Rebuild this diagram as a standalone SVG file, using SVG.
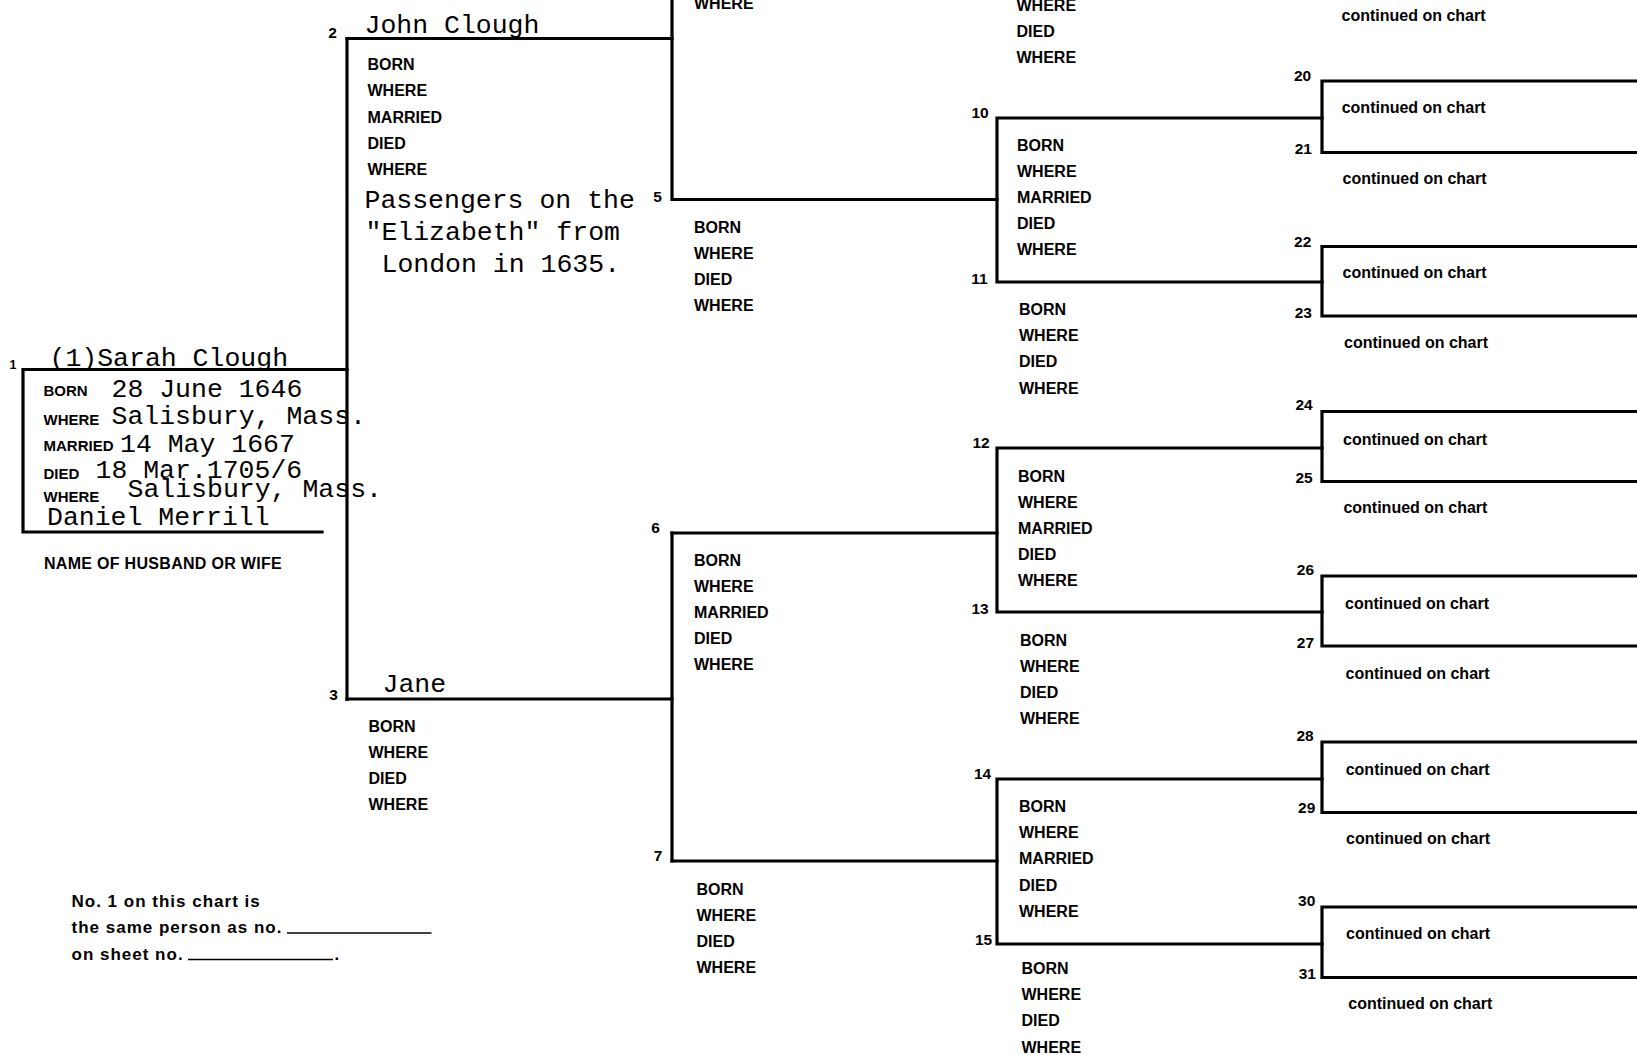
<svg xmlns="http://www.w3.org/2000/svg" width="1637" height="1055" viewBox="0 0 1637 1055">
<style>
.ln{stroke:#000;stroke-width:3.2;fill:none;stroke-linecap:square;stroke-linejoin:miter}
.lbl{font-family:"Liberation Sans",Arial,Helvetica,sans-serif;font-weight:bold;font-size:16px;fill:#000}
.num{font-family:"Liberation Sans",Arial,Helvetica,sans-serif;font-weight:bold;font-size:15.5px;fill:#000;text-anchor:middle}
.typ{font-family:"Liberation Mono","Courier New",monospace;font-size:26.5px;fill:#000}
.sm{font-family:"Liberation Sans",Arial,Helvetica,sans-serif;font-weight:bold;font-size:15px;fill:#000}
.nm{font-family:"Liberation Sans",Arial,Helvetica,sans-serif;font-weight:bold;font-size:16px;letter-spacing:0.3px;fill:#000}
.note{font-family:"Liberation Sans",Arial,Helvetica,sans-serif;font-weight:bold;font-size:17px;letter-spacing:1px;fill:#000}
.ul{stroke:#000;stroke-width:1.5;fill:none}
</style>
<rect x="0" y="0" width="1637" height="1055" fill="#fff"/>

<g id="connectors">
<path class="ln" d="M347,38.5 V699.5"/>
<path class="ln" d="M347,38.5 H672"/>
<path class="ln" d="M347,699 H672"/>
<path class="ln" d="M672,-5 V199.5 H997"/>
<path class="ln" d="M672,533 V861"/>
<path class="ln" d="M672,533 H997"/>
<path class="ln" d="M672,861 H997"/>
<path class="ln" d="M1322,118 H997 V282 H1322"/>
<path class="ln" d="M1322,448 H997 V612 H1322"/>
<path class="ln" d="M1322,779 H997 V944 H1322"/>
<path class="ln" d="M1642,81 H1322 V152.5 H1642"/>
<path class="ln" d="M1642,246.5 H1322 V316 H1642"/>
<path class="ln" d="M1642,411.5 H1322 V481.5 H1642"/>
<path class="ln" d="M1642,576 H1322 V646 H1642"/>
<path class="ln" d="M1642,742 H1322 V812.5 H1642"/>
<path class="ln" d="M1642,907 H1322 V977.5 H1642"/>
</g>

<g id="node1">
<path class="ln" d="M347,369.5 H23 V532 H322"/>
<text class="num" x="13" y="369" style="font-size:12.5px">1</text>
<text class="typ" x="49.5" y="365.5">(1)Sarah Clough</text>
<text class="sm" x="43.5" y="396">BORN</text>
<text class="typ" x="111.5" y="396.5">28 June 1646</text>
<text class="sm" x="43.5" y="424.5">WHERE</text>
<text class="typ" x="111.5" y="424">Salisbury, Mass.</text>
<text class="sm" x="43.5" y="451">MARRIED</text>
<text class="typ" x="120" y="451.5">14 May 1667</text>
<text class="sm" x="43.5" y="478.5">DIED</text>
<text class="typ" x="95.5" y="478">18 Mar.1705/6</text>
<text class="sm" x="43.5" y="502">WHERE</text>
<text class="typ" x="127.5" y="497">Salisbury, Mass.</text>
<text class="typ" x="47" y="525">Daniel Merrill</text>
<text class="nm" x="44" y="569">NAME OF HUSBAND OR WIFE</text>
</g>

<g id="node2">
<text class="num" x="332.5" y="38">2</text>
<text class="typ" x="364.5" y="32.5">John Clough</text>
<text class="lbl" x="367.5" y="70">BORN</text>
<text class="lbl" x="367.5" y="96.3">WHERE</text>
<text class="lbl" x="367.5" y="122.6">MARRIED</text>
<text class="lbl" x="367.5" y="148.9">DIED</text>
<text class="lbl" x="367.5" y="175.2">WHERE</text>
<text class="typ" x="364.5" y="208">Passengers on the</text>
<text class="typ" x="365.5" y="239.5">"Elizabeth" from</text>
<text class="typ" x="381.5" y="271.5">London in 1635.</text>
</g>

<g id="node3">
<text class="num" x="333.5" y="700">3</text>
<text class="typ" x="382.5" y="692">Jane</text>
<text class="lbl" x="368.5" y="731.6">BORN</text>
<text class="lbl" x="368.5" y="757.7">WHERE</text>
<text class="lbl" x="368.5" y="783.9">DIED</text>
<text class="lbl" x="368.5" y="810">WHERE</text>
</g>

<g id="node4">
<text class="lbl" x="694" y="8.5">WHERE</text>
</g>

<g id="node5">
<text class="num" x="657.5" y="201.5">5</text>
<text class="lbl" x="694" y="232.5">BORN</text>
<text class="lbl" x="694" y="258.6">WHERE</text>
<text class="lbl" x="694" y="284.8">DIED</text>
<text class="lbl" x="694" y="311">WHERE</text>
</g>

<g id="node6">
<text class="num" x="655.5" y="532.5">6</text>
<text class="lbl" x="694" y="565.7">BORN</text>
<text class="lbl" x="694" y="591.8">WHERE</text>
<text class="lbl" x="694" y="618">MARRIED</text>
<text class="lbl" x="694" y="644.1">DIED</text>
<text class="lbl" x="694" y="670.3">WHERE</text>
</g>

<g id="node7">
<text class="num" x="658" y="861">7</text>
<text class="lbl" x="696.5" y="895">BORN</text>
<text class="lbl" x="696.5" y="921">WHERE</text>
<text class="lbl" x="696.5" y="947">DIED</text>
<text class="lbl" x="696.5" y="973">WHERE</text>
</g>

<g id="node9">
<text class="lbl" x="1016.5" y="10.5">WHERE</text>
<text class="lbl" x="1016.5" y="36.7">DIED</text>
<text class="lbl" x="1016.5" y="62.9">WHERE</text>
</g>

<g id="node10">
<text class="num" x="980" y="117.5">10</text>
<text class="lbl" x="1017" y="150.5">BORN</text>
<text class="lbl" x="1017" y="176.7">WHERE</text>
<text class="lbl" x="1017" y="202.9">MARRIED</text>
<text class="lbl" x="1017" y="229.1">DIED</text>
<text class="lbl" x="1017" y="255.3">WHERE</text>
</g>

<g id="node11">
<text class="num" x="979.5" y="284">11</text>
<text class="lbl" x="1019" y="315">BORN</text>
<text class="lbl" x="1019" y="341.2">WHERE</text>
<text class="lbl" x="1019" y="367.4">DIED</text>
<text class="lbl" x="1019" y="393.6">WHERE</text>
</g>

<g id="node12">
<text class="num" x="981" y="448">12</text>
<text class="lbl" x="1018" y="481.5">BORN</text>
<text class="lbl" x="1018" y="507.7">WHERE</text>
<text class="lbl" x="1018" y="533.9">MARRIED</text>
<text class="lbl" x="1018" y="560.1">DIED</text>
<text class="lbl" x="1018" y="586.3">WHERE</text>
</g>

<g id="node13">
<text class="num" x="980" y="614">13</text>
<text class="lbl" x="1020" y="645.7">BORN</text>
<text class="lbl" x="1020" y="671.9">WHERE</text>
<text class="lbl" x="1020" y="698.1">DIED</text>
<text class="lbl" x="1020" y="724.3">WHERE</text>
</g>

<g id="node14">
<text class="num" x="982.5" y="778.5">14</text>
<text class="lbl" x="1019" y="812">BORN</text>
<text class="lbl" x="1019" y="838.2">WHERE</text>
<text class="lbl" x="1019" y="864.4">MARRIED</text>
<text class="lbl" x="1019" y="890.6">DIED</text>
<text class="lbl" x="1019" y="916.8">WHERE</text>
</g>

<g id="node15">
<text class="num" x="983.5" y="945">15</text>
<text class="lbl" x="1021.5" y="973.5">BORN</text>
<text class="lbl" x="1021.5" y="999.9">WHERE</text>
<text class="lbl" x="1021.5" y="1026.3">DIED</text>
<text class="lbl" x="1021.5" y="1052.7">WHERE</text>
</g>

<g id="node19"><text class="lbl" x="1341.5" y="20.5">continued on chart</text></g>
<g id="node20"><text class="num" x="1302.5" y="81">20</text><text class="lbl" x="1341.7" y="113.3">continued on chart</text></g>
<g id="node21"><text class="num" x="1303.3" y="154">21</text><text class="lbl" x="1342.5" y="184">continued on chart</text></g>
<g id="node22"><text class="num" x="1302.7" y="246.5">22</text><text class="lbl" x="1342.5" y="278.3">continued on chart</text></g>
<g id="node23"><text class="num" x="1303.3" y="318">23</text><text class="lbl" x="1344" y="348.3">continued on chart</text></g>
<g id="node24"><text class="num" x="1304" y="410">24</text><text class="lbl" x="1343" y="445">continued on chart</text></g>
<g id="node25"><text class="num" x="1304" y="483">25</text><text class="lbl" x="1343.4" y="513.3">continued on chart</text></g>
<g id="node26"><text class="num" x="1305.4" y="575">26</text><text class="lbl" x="1345" y="609.3">continued on chart</text></g>
<g id="node27"><text class="num" x="1305.4" y="648">27</text><text class="lbl" x="1345.6" y="679">continued on chart</text></g>
<g id="node28"><text class="num" x="1305" y="741">28</text><text class="lbl" x="1345.7" y="775">continued on chart</text></g>
<g id="node29"><text class="num" x="1306.7" y="813">29</text><text class="lbl" x="1346" y="844.3">continued on chart</text></g>
<g id="node30"><text class="num" x="1306.7" y="906">30</text><text class="lbl" x="1346" y="939.3">continued on chart</text></g>
<g id="node31"><text class="num" x="1307.3" y="979">31</text><text class="lbl" x="1348.3" y="1009.3">continued on chart</text></g>

<g id="note">
<text class="note" x="71.5" y="906.7">No. 1 on this chart is</text>
<text class="note" x="71.5" y="933.3">the same person as no.</text>
<path class="ul" d="M287,933 H431.5"/>
<text class="note" x="71.5" y="960">on sheet no.</text>
<path class="ul" d="M188,959.5 H333"/>
<text class="note" x="334.5" y="960">.</text>
</g>
</svg>
